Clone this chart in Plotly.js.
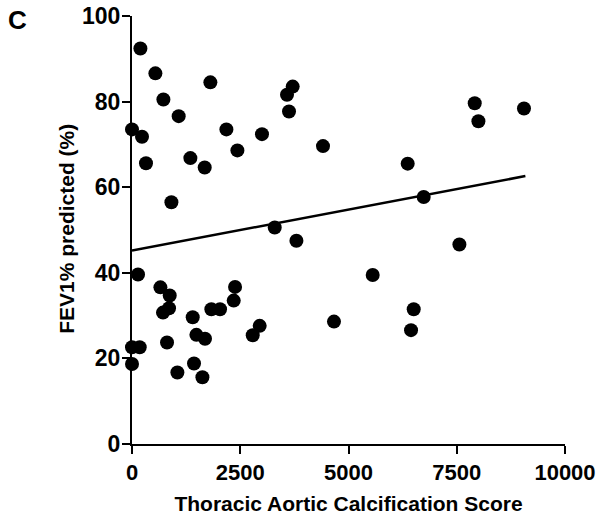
<!DOCTYPE html>
<html>
<head>
<meta charset="utf-8">
<script src="https://cdn.plot.ly/plotly-3.0.1.min.js"></script>
<style>html,body{margin:0;padding:0;background:#fff;}#chart{width:604px;height:515px;}</style>
</head>
<body>
<div id="chart"></div>
<script>
// Thoracic Aortic Calcification Score (x) vs FEV1% predicted (y)
const scoreX = [
  194, 540, 1810, 3711, 3580, 3626, 725, 1078, 0, 231, 2180, 3002, 2434, 323, 1348, 1679, 910,
  4411, 6367, 6737, 7915, 8000, 9053, 7561, 3296, 3797,
  139, 656, 871, 855, 716, 1402, 1833, 2033, 2380, 2349, 2949, 2788, 1487, 1686, 809, 0, 178, 0, 1432, 1048, 1626,
  5559, 6506, 6444, 4665
];
const fev1Y = [
  92.4, 86.6, 84.5, 83.5, 81.6, 77.7, 80.5, 76.6, 73.5, 71.8, 73.5, 72.4, 68.6, 65.6, 66.8, 64.6, 56.5,
  69.6, 65.5, 57.7, 79.6, 75.4, 78.4, 46.6, 50.6, 47.5,
  39.6, 36.6, 34.7, 31.7, 30.7, 29.6, 31.5, 31.5, 36.7, 33.5, 27.6, 25.4, 25.5, 24.6, 23.7, 22.6, 22.6, 18.7, 18.8, 16.7, 15.6,
  39.5, 31.5, 26.6, 28.6
];
// regression line endpoints
const fitX = [0, 9085];
const fitY = [45.2, 62.6];

const xTicks = [0, 2500, 5000, 7500, 10000];
const yTicks = [0, 20, 40, 60, 80, 100];

const FONT = "Liberation Sans, Arial, Helvetica, sans-serif";

const traces = [
  {
    x: fitX, y: fitY, type: "scatter", mode: "lines",
    line: {color: "#000", width: 2.5}, cliponaxis: false, hoverinfo: "skip"
  },
  {
    x: scoreX, y: fev1Y, type: "scatter", mode: "markers",
    marker: {color: "#000", size: 14, line: {width: 0}}, cliponaxis: false
  }
];

const layout = {
  width: 604, height: 515,
  margin: {l: 132, r: 39, t: 16, b: 71},
  paper_bgcolor: "#fff", plot_bgcolor: "#fff",
  showlegend: false,
  font: {family: FONT, color: "#000", size: 21, weight: 700},
  xaxis: {
    range: [0, 10000], tickvals: xTicks, ticktext: xTicks.map(String),
    showgrid: false, zeroline: false, showline: true, linecolor: "#000", linewidth: 2,
    ticks: "outside", ticklen: 8, tickwidth: 2, tickcolor: "#000",
    tickfont: {family: FONT, size: 22, weight: 700, color: "#000"},
    title: {text: "Thoracic Aortic Calcification Score", font: {family: FONT, size: 21, weight: 700, color: "#000"}, standoff: 14},
    automargin: false, fixedrange: true
  },
  yaxis: {
    range: [0, 100], tickvals: yTicks, ticktext: yTicks.map(String),
    showgrid: false, zeroline: false, showline: true, linecolor: "#000", linewidth: 2,
    ticks: "outside", ticklen: 8, tickwidth: 2, tickcolor: "#000",
    tickfont: {family: FONT, size: 23, weight: 700, color: "#000"},
    ticklabelstandoff: -3,
    automargin: false, fixedrange: true
  },
  annotations: [
    {text: "FEV1% predicted (%)", xref: "paper", yref: "paper", x: -0.1513, y: 0.504,
     xanchor: "center", yanchor: "middle", textangle: -90, showarrow: false,
     font: {family: FONT, size: 21, weight: 700, color: "#000"}},
    {text: "C", xref: "paper", yref: "paper", x: -0.29, y: 1.03, xanchor: "left", yanchor: "top",
     showarrow: false, font: {family: FONT, size: 26, weight: 700, color: "#000"}}
  ]
};

Plotly.newPlot("chart", traces, layout, {staticPlot: true, displayModeBar: false});
</script>
</body>
</html>
